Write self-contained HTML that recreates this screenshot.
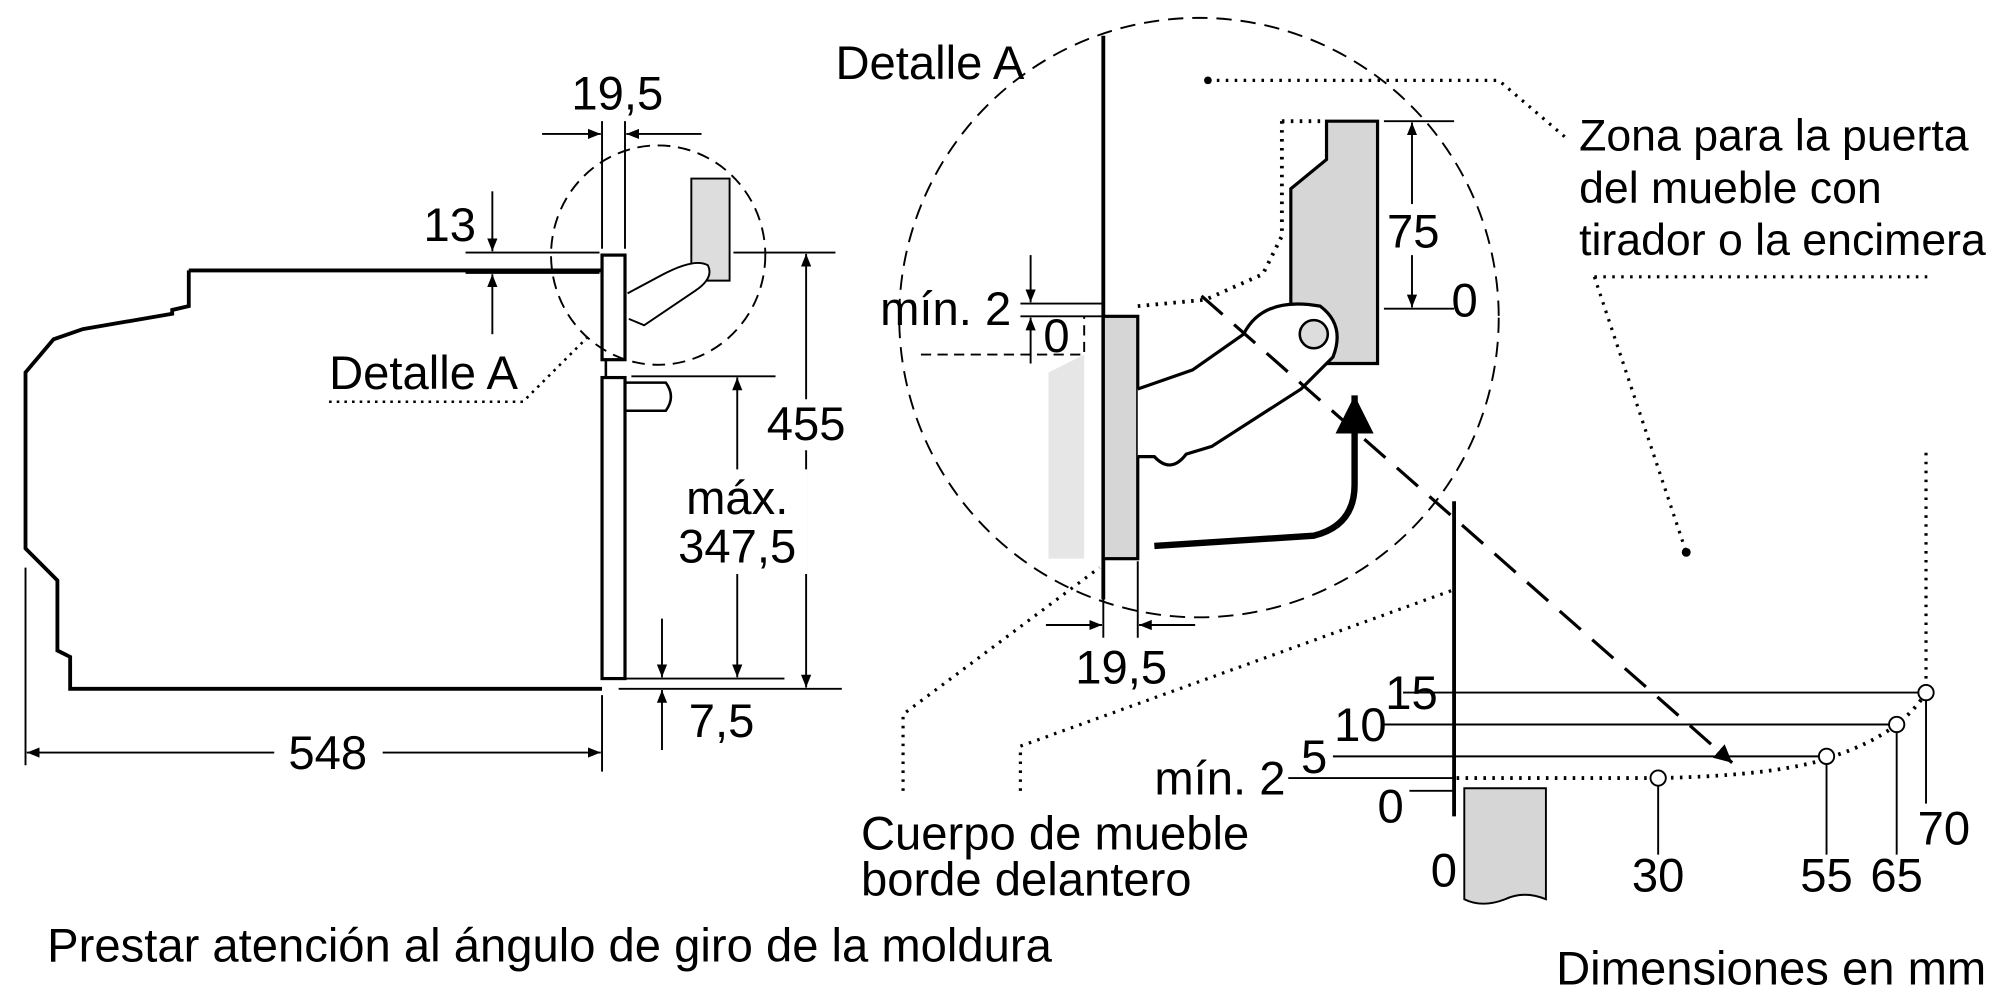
<!DOCTYPE html>
<html><head><meta charset="utf-8"><style>
html,body{margin:0;padding:0;background:#fff;}
svg{display:block}
text{font-family:"Liberation Sans",sans-serif;font-size:37px;fill:#000}
text.z{font-size:35px}
</style></head><body>
<svg width="2000" height="1000" viewBox="0 0 1568 784" preserveAspectRatio="none" xmlns="http://www.w3.org/2000/svg">
<defs>
<marker id="a" viewBox="0 0 10 10" refX="10" refY="5" markerWidth="10" markerHeight="10" markerUnits="userSpaceOnUse" orient="auto"><path d="M0,1 L10,5 L0,9 z" fill="#000"/></marker>
<marker id="b" viewBox="0 0 10 10" refX="10" refY="5" markerWidth="14" markerHeight="14" markerUnits="userSpaceOnUse" orient="auto"><path d="M0,0 L10,5 L0,10 z" fill="#000"/></marker>
<marker id="c" viewBox="0 0 10 10" refX="10" refY="5" markerWidth="30" markerHeight="30" markerUnits="userSpaceOnUse" orient="auto"><path d="M0,0 L10,5 L0,10 z" fill="#000"/></marker>
</defs>
<g fill="none" stroke="#000" stroke-width="2">
<path d="M148,212 L472,212 M148,212 L148,240 L135,243 L135,246 L65,258 L42,266 L20,292 L20,430 L45,455 L45,510 L55,515 L55,540 L472,540" stroke-width="3"/>
<rect x="472" y="200" width="18" height="82" stroke-width="2.5"/>
<rect x="472" y="296" width="18" height="236" stroke-width="2.5"/>
<path d="M475,282 L475,296 M490,300 L522,300 Q530,311 522,322 L490,322"/>
<ellipse cx="516" cy="200" rx="84" ry="86" stroke-dasharray="10,6" stroke-width="1.5"/>
<path d="M542,140 L572,140 L572,220 L542,220 L542,160 Z" fill="#ddd" stroke-width="1.5"/>
<path d="M492,230 L520,215 Q545,202 555,208 Q560,218 545,228 L505,255 L493,250" fill="#fff" stroke-width="1.5"/>
<path d="M472,95 L472,195 M490,95 L490,195" stroke-width="1.5"/>
<path d="M425,105 L471,105" marker-end="url(#a)" stroke-width="1.5"/>
<path d="M550,105 L491,105" marker-end="url(#a)" stroke-width="1.5"/>
<path d="M365,198 L470,198 M365,214 L470,214" stroke-width="1.5"/>
<path d="M386,150 L386,197" marker-end="url(#a)" stroke-width="1.5"/>
<path d="M386,262 L386,215" marker-end="url(#a)" stroke-width="1.5"/>
<path d="M575,198 L655,198 M485,540 L660,540 M495,295 L608,295 M485,532 L615,532" stroke-width="1.5"/>
<path d="M632,370 L632,199" marker-end="url(#a)" stroke-width="1.5"/>
<path d="M632,370 L632,539" marker-end="url(#a)" stroke-width="1.5"/>
<path d="M578,400 L578,296" marker-end="url(#a)" stroke-width="1.5"/>
<path d="M578,400 L578,531" marker-end="url(#a)" stroke-width="1.5"/>
<path d="M519,485 L519,531" marker-end="url(#a)" stroke-width="1.5"/>
<path d="M519,588 L519,541" marker-end="url(#a)" stroke-width="1.5"/>
<path d="M20,445 L20,600 M472,545 L472,605" stroke-width="1.5"/>
<path d="M215,590 L21,590" marker-end="url(#a)" stroke-width="1.5"/>
<path d="M300,590 L471,590" marker-end="url(#a)" stroke-width="1.5"/>
<path d="M258,315 L410,315 L460,265" stroke-dasharray="2,4" stroke-width="2"/>
<circle cx="940" cy="249" r="235" stroke-dasharray="12,7" stroke-width="1.5"/>
<path d="M822,292 L850,278 L850,438 L862,438 L862,438 L822,438 Z" fill="#e6e6e6" stroke="none"/>
<path d="M722,278 L850,278 L850,248" stroke-dasharray="8,5" stroke-width="1.5"/>
<path d="M865,28 L865,470" stroke-width="3"/>
<rect x="865" y="248" width="27" height="190" fill="#d6d6d6" stroke-width="2.5"/>
<path d="M1040,95 L1080,95 L1080,285 L1012,285 L1012,148 L1040,125 Z" fill="#d6d6d6" stroke-width="2.5"/>
<path d="M892,305 L935,290 L975,262 Q990,232 1035,240 Q1055,255 1045,280 L1020,305 L950,350 L930,356 Q918,372 905,358 L892,358" fill="#fff" stroke-width="2.5"/>
<circle cx="1030" cy="262" r="11" fill="#ddd" stroke-width="2"/>
<path d="M905,428 L1030,420 Q1062,412 1062,380 L1062,310" stroke-width="5" marker-end="url(#c)"/>
<path d="M1005,95 L1040,95 M1005,95 L1005,185 L990,215 L945,235 L892,240" stroke-dasharray="2,5" stroke-width="3"/>
<path d="M1085,95 L1140,95 M1085,242 L1140,242" stroke-width="1.5"/>
<path d="M1107,160 L1107,96" marker-end="url(#a)" stroke-width="1.5"/>
<path d="M1107,200 L1107,241" marker-end="url(#a)" stroke-width="1.5"/>
<path d="M800,238 L865,238 M800,248 L865,248" stroke-width="1.5"/>
<path d="M808,200 L808,237" marker-end="url(#a)" stroke-width="1.5"/>
<path d="M808,285 L808,249" marker-end="url(#a)" stroke-width="1.5"/>
<path d="M865,440 L865,500 M892,440 L892,500" stroke-width="1.5"/>
<path d="M820,490 L864,490" marker-end="url(#a)" stroke-width="1.5"/>
<path d="M937,490 L893,490" marker-end="url(#a)" stroke-width="1.5"/>
<path d="M942,232 L1358,598" stroke-dasharray="22,12" stroke-width="2.5" marker-end="url(#b)"/>
<path d="M947,63 L1175,63 L1230,110" stroke-dasharray="2,5" stroke-width="2.5"/>
<path d="M1250,217 L1512,217 M1250,217 L1322,433" stroke-dasharray="2,5" stroke-width="2.5"/>
<path d="M1510,355 L1510,540" stroke-dasharray="2,5" stroke-width="2.5"/>
<path d="M708,620 L708,560 L862,445 M800,620 L800,585 L1138,463" stroke-dasharray="2,5" stroke-width="2.5"/>
<path d="M1148,618 L1212,618 L1212,705 Q1195,698 1180,705 Q1162,712 1148,705 Z" fill="#d6d6d6" stroke-width="1.5"/>
<path d="M1140,393 L1140,640" stroke-width="3"/>
<path d="M1100,543 L1510,543 M1085,568 L1487,568 M1045,593 L1432,593 M1010,610 L1140,610 M1105,620 L1140,620" stroke-width="1.5"/>
<path d="M1300,616 L1300,670 M1432,599 L1432,670 M1487,574 L1487,670 M1510,549 L1510,630" stroke-width="1.5"/>
<path d="M1142,610 L1300,610 Q1400,608 1440,592 Q1490,575 1510,543" stroke-dasharray="2,5" stroke-width="3"/>
<circle cx="1300" cy="610" r="6" fill="#fff" stroke-width="1.5"/>
<circle cx="1432" cy="593" r="6" fill="#fff" stroke-width="1.5"/>
<circle cx="1487" cy="568" r="6" fill="#fff" stroke-width="1.5"/>
<circle cx="1510" cy="543" r="6" fill="#fff" stroke-width="1.5"/>
</g>
<circle cx="947" cy="63" r="3" fill="#000"/><circle cx="1322" cy="433" r="3.5" fill="#000"/>
<rect x="596" y="313" width="72" height="40" fill="#fff"/>
<rect x="525" y="368" width="108" height="82" fill="#fff"/>
<g text-anchor="middle">
<text x="484" y="86">19,5</text>
<text x="632" y="345">455</text>
<text x="578" y="403">máx.</text>
<text x="578" y="441">347,5</text>
<text x="257" y="603">548</text>
<text x="879" y="536">19,5</text>
<text x="1108" y="194">75</text>
<text x="1300" y="699">30</text>
<text x="1432" y="699">55</text>
<text x="1487" y="699">65</text>
<text x="1524" y="662">70</text>
<text x="1132" y="695">0</text>
</g>
<text x="332" y="189">13</text>
<text x="540" y="578">7,5</text>
<text x="258" y="305">Detalle A</text>
<text x="655" y="62">Detalle A</text>
<text x="690" y="255">mín. 2</text>
<text x="818" y="276">0</text>
<text x="1138" y="248">0</text>
<text class="z" x="1238" y="118">Zona para la puerta</text>
<text class="z" x="1238" y="159">del mueble con</text>
<text class="z" x="1238" y="200">tirador o la encimera</text>
<text x="675" y="666">Cuerpo de mueble</text>
<text x="675" y="702">borde delantero</text>
<text x="1086" y="556">15</text>
<text x="1046" y="581">10</text>
<text x="1020" y="606">5</text>
<text x="905" y="623">mín. 2</text>
<text x="1080" y="645">0</text>
<text x="37" y="754">Prestar atención al ángulo de giro de la moldura</text>
<text x="1220" y="772">Dimensiones en mm</text>
</svg>
</body></html>
